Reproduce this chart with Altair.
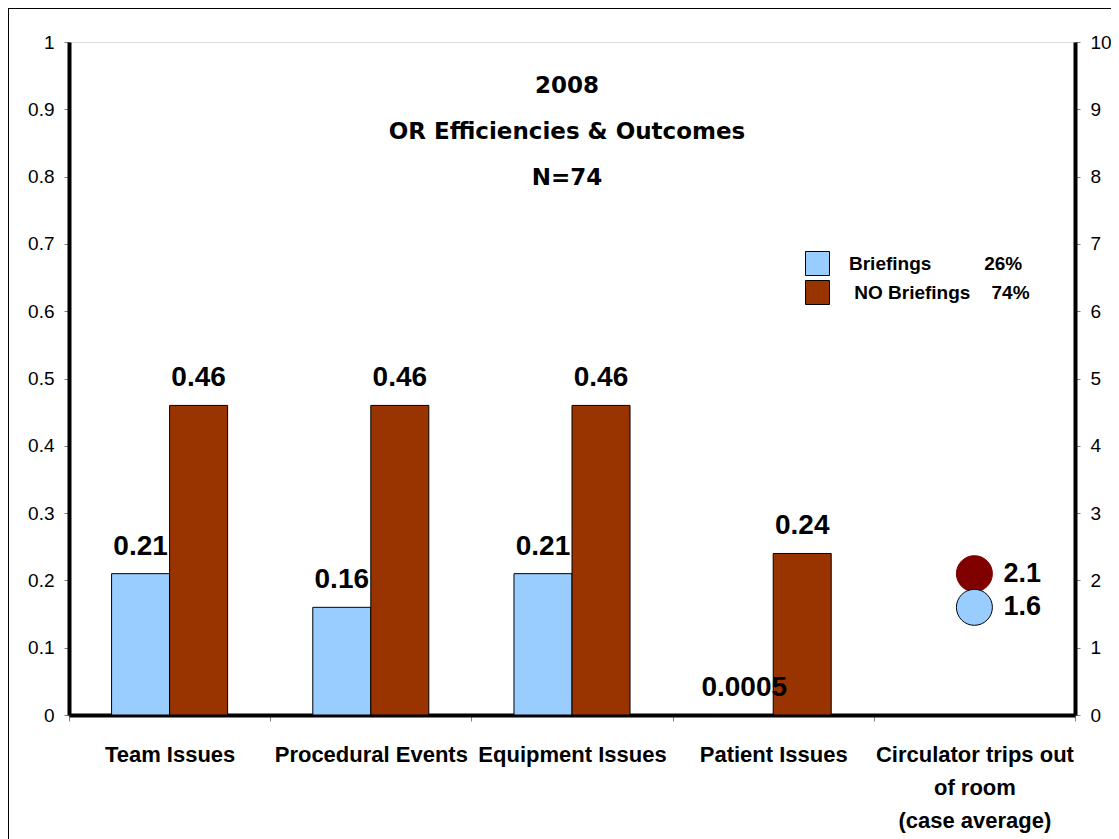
import altair as alt
import pandas as pd

# ---------------- data ----------------
categories = [
    "Team Issues",
    "Procedural Events",
    "Equipment Issues",
    "Patient Issues",
    "Circulator trips out\nof room\n(case average)",
]
series = ["Briefings", "NO Briefings"]
legend_pct = ["26%", "74%"]

briefings_vals = [0.21, 0.16, 0.21, 0.0005]
no_briefings_vals = [0.46, 0.46, 0.46, 0.24]

trip_series = ["NO Briefings", "Briefings"]
trip_values = [2.1, 1.6]

left_ticks = [0, 0.1, 0.2, 0.3, 0.4, 0.5, 0.6, 0.7, 0.8, 0.9, 1.0]
right_ticks = [0, 1, 2, 3, 4, 5, 6, 7, 8, 9, 10]

title_lines = ["2008", "OR Efficiencies & Outcomes", "N=74"]

# ---------------- tables ----------------
rows = []
for cat, b, n in zip(categories[:4], briefings_vals, no_briefings_vals):
    rows.append({"category": cat, "series": series[0], "value": b})
    rows.append({"category": cat, "series": series[1], "value": n})
bars_df = pd.DataFrame(rows)

trips_df = pd.DataFrame(
    {
        "category": [categories[4]] * len(trip_series),
        "series": trip_series,
        "value": trip_values,
        "draw": list(range(len(trip_series))),
    }
)

W, H = 1006, 673
FONT = "Liberation Sans"
NB = "\u00a0"
ZW = "\u200b"

lbl1 = series[0] + NB * 10 + legend_pct[0]
lbl2 = ZW + NB + series[1] + NB * 4 + legend_pct[1]
legend_expr = f"datum.label == '{series[0]}' ? '{lbl1}' : '{lbl2}'"

x_enc = alt.X(
    "category:N",
    sort=categories,
    scale=alt.Scale(domain=categories, paddingInner=0, paddingOuter=0),
    axis=alt.Axis(
        title=None,
        labelAngle=0,
        labelExpr="split(datum.label, '\\n')",
        tickBand="extent",
        labelFont=FONT,
        labelFontSize=22,
        labelFontWeight="bold",
        labelColor="black",
        labelLineHeight=33,
        labelPadding=23,
        labelLimit=0,
        labelOverlap=False,
        labelBound=False,
        tickColor="#808080",
        tickSize=6,
        domainColor="black",
        domainWidth=4,
    ),
)

xoff_enc = alt.XOffset(
    "series:N",
    sort=series,
    scale=alt.Scale(domain=series, paddingInner=0, paddingOuter=0.734),
)

left_scale = alt.Scale(domain=[0, 1], nice=False, zero=True)
right_scale = alt.Scale(domain=[0, 10], nice=False, zero=True)

bars = alt.Chart(bars_df).mark_bar(stroke="black", strokeWidth=1, opacity=1).encode(
    x=x_enc,
    xOffset=xoff_enc,
    y=alt.Y(
        "value:Q",
        scale=left_scale,
        axis=alt.Axis(
            title=None,
            values=left_ticks,
            labelExpr="format(datum.value, '~g')",
            grid=False,
            labelFont=FONT,
            labelFontSize=19,
            labelColor="black",
            labelPadding=10,
            tickColor="#808080",
            tickSize=5,
            domainColor="black",
            domainWidth=4,
        ),
    ),
    color=alt.Color(
        "series:N",
        sort=series,
        scale=alt.Scale(domain=series, range=["#99CCFF", "#993300"]),
        legend=alt.Legend(
            title=None,
            orient="none",
            legendX=736,
            legendY=209,
            padding=0,
            symbolType="square",
            symbolSize=576,
            symbolStrokeColor="black",
            symbolStrokeWidth=1,
            symbolOpacity=1,
            rowPadding=0,
            labelOffset=19,
            labelFont=FONT,
            labelFontSize=19,
            labelFontWeight="bold",
            labelColor="black",
            labelLimit=400,
            labelExpr=legend_expr,
        ),
    ),
)

bar_labels = alt.Chart(bars_df).mark_text(
    font=FONT, fontSize=28, fontWeight="bold", color="black",
    baseline="alphabetic", dy=-19,
).encode(
    x=x_enc,
    xOffset=xoff_enc,
    y=alt.Y("value:Q", scale=left_scale, axis=None),
    text=alt.Text("value:Q", format="~g"),
)

circles = alt.Chart(trips_df).mark_circle(size=1296, opacity=1, strokeWidth=1).encode(
    x=x_enc,
    y=alt.Y(
        "value:Q",
        scale=right_scale,
        axis=alt.Axis(
            title=None,
            orient="right",
            values=right_ticks,
            labelExpr="format(datum.value, 'd')",
            grid=False,
            labelFont=FONT,
            labelFontSize=19,
            labelColor="black",
            labelPadding=10,
            tickColor="#808080",
            tickSize=5,
            domainColor="black",
            domainWidth=4,
        ),
    ),
    color=alt.Color(
        "series:N",
        scale=alt.Scale(domain=series, range=["#99CCFF", "#800000"]),
        legend=None,
    ),
    stroke=alt.condition(
        f"datum.series == '{series[0]}'", alt.value("black"), alt.value("#800000")
    ),
    order=alt.Order("draw:Q"),
)

circle_labels = alt.Chart(trips_df).mark_text(
    font=FONT, fontSize=27, fontWeight="bold", color="black",
    align="left", baseline="middle", dx=29,
).encode(
    x=x_enc,
    y=alt.Y("value:Q", scale=right_scale, axis=None),
    text=alt.Text("value:Q", format="~g"),
)

frame = alt.Chart(alt.Data(values=[{"f": 1}])).mark_rect(
    fill="transparent", stroke="black", strokeWidth=2, clip=False
).encode(
    x=alt.value(-61), x2=alt.value(1300), y=alt.value(-34), y2=alt.value(1300)
)

chart = (
    alt.layer(frame, bars, bar_labels, circles, circle_labels)
    .resolve_scale(y="independent", color="independent")
    .properties(
        width=W,
        height=H,
        autosize=alt.AutoSizeParams(type="none"),
        padding={"left": 61, "top": 34, "right": 36, "bottom": 130},
        title=alt.TitleParams(
            title_lines,
            anchor="middle",
            frame="group",
            orient="top",
            baseline="top",
            offset=0,
            dy=183,
            dx=-5,
            font="DejaVu Sans",
            fontSize=23,
            fontWeight="bold",
            color="black",
            lineHeight=46,
        ),
    )
    .configure_view(stroke="black", strokeWidth=4)
    .configure(background="white")
)

chart.save("out.html", embed_options={"renderer": "svg", "actions": False})
